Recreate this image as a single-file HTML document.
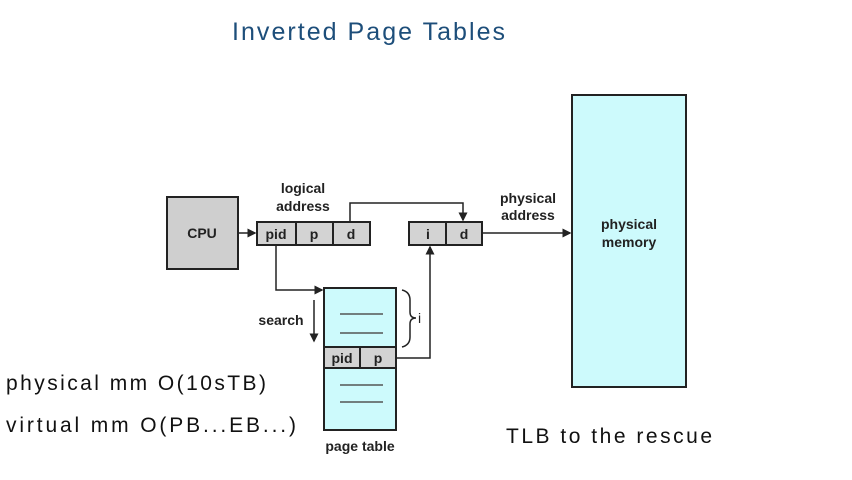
<!DOCTYPE html>
<html><head><meta charset="utf-8"><style>
html,body{margin:0;padding:0;background:#fff;width:852px;height:480px;overflow:hidden}
svg{display:block}
.s{font-family:"Liberation Sans",sans-serif;font-weight:bold;font-size:14px;fill:#222}
.h{font-family:"Liberation Sans",sans-serif;font-size:21px;fill:#111}
</style></head><body>
<svg width="852" height="480" viewBox="0 0 852 480">
<defs><marker id="a" markerWidth="6" markerHeight="6" refX="5" refY="3" orient="auto"><path d="M0,0 L6,3 L0,6z" fill="#222"/></marker></defs>
<text x="232" y="40" class="h" style="fill:#1d4e7a;font-size:25px" textLength="273" lengthAdjust="spacing">Inverted Page Tables</text>
<rect x="167" y="197" width="71" height="72" fill="#cfcfcf" stroke="#222" stroke-width="2"/>
<text x="202" y="238" class="s" text-anchor="middle">CPU</text>
<text x="303" y="193" class="s" text-anchor="middle">logical</text>
<text x="303" y="211" class="s" text-anchor="middle">address</text>
<g>
<rect x="257" y="222" width="113" height="23" fill="#d3d3d3" stroke="#222" stroke-width="2"/>
<line x1="296" y1="222" x2="296" y2="245" stroke="#222" stroke-width="2"/>
<line x1="333" y1="222" x2="333" y2="245" stroke="#222" stroke-width="2"/>
<text x="276" y="239" class="s" text-anchor="middle">pid</text>
<text x="314" y="239" class="s" text-anchor="middle">p</text>
<text x="351" y="239" class="s" text-anchor="middle">d</text>
</g>
<g>
<rect x="409" y="222" width="73" height="23" fill="#d3d3d3" stroke="#222" stroke-width="2"/>
<line x1="446" y1="222" x2="446" y2="245" stroke="#222" stroke-width="2"/>
<text x="428" y="239" class="s" text-anchor="middle">i</text>
<text x="464" y="239" class="s" text-anchor="middle">d</text>
</g>
<text x="528" y="203" class="s" text-anchor="middle">physical</text>
<text x="528" y="220" class="s" text-anchor="middle">address</text>
<rect x="572" y="95" width="114" height="292" fill="#cdfafc" stroke="#222" stroke-width="2"/>
<text x="629" y="229" class="s" text-anchor="middle">physical</text>
<text x="629" y="247" class="s" text-anchor="middle">memory</text>
<g fill="none" stroke="#222" stroke-width="1.5">
<path d="M238,233 H255" marker-end="url(#a)"/>
<path d="M350,222 V203 H463 V220" marker-end="url(#a)"/>
<path d="M482,233 H570" marker-end="url(#a)"/>
<path d="M276,245 V290 H322" marker-end="url(#a)"/>
<path d="M396,358 H430 V247" marker-end="url(#a)"/>
<path d="M314,300 V341" marker-end="url(#a)"/>
<path d="M402,290 Q410,292 410,300 V312 Q410,318 416,318 Q410,318 410,324 V337 Q410,345 402,347"/>
</g>
<g>
<rect x="324" y="288" width="72" height="142" fill="#cdfafc" stroke="#222" stroke-width="2"/>
<rect x="324" y="347" width="72" height="21" fill="#d3d3d3" stroke="#222" stroke-width="2"/>
<line x1="360" y1="347" x2="360" y2="368" stroke="#222" stroke-width="2"/>
<text x="342" y="363" class="s" text-anchor="middle">pid</text>
<text x="378" y="363" class="s" text-anchor="middle">p</text>
<g stroke="#555" stroke-width="1.5"><line x1="340" y1="314" x2="383" y2="314"/><line x1="340" y1="333" x2="383" y2="333"/><line x1="340" y1="385" x2="383" y2="385"/><line x1="340" y1="402" x2="383" y2="402"/></g>
</g>
<text x="360" y="451" class="s" text-anchor="middle">page table</text>
<text x="281" y="325" class="s" text-anchor="middle">search</text>
<text x="418" y="323" class="s" style="font-weight:normal">i</text>
<text x="6" y="390" class="h" textLength="260" lengthAdjust="spacing">physical mm  O(10sTB)</text>
<text x="6" y="432" class="h" textLength="290" lengthAdjust="spacing">virtual  mm  O(PB...EB...)</text>
<text x="506" y="443" class="h" textLength="206" lengthAdjust="spacing">TLB to the rescue</text>
</svg>
</body></html>
